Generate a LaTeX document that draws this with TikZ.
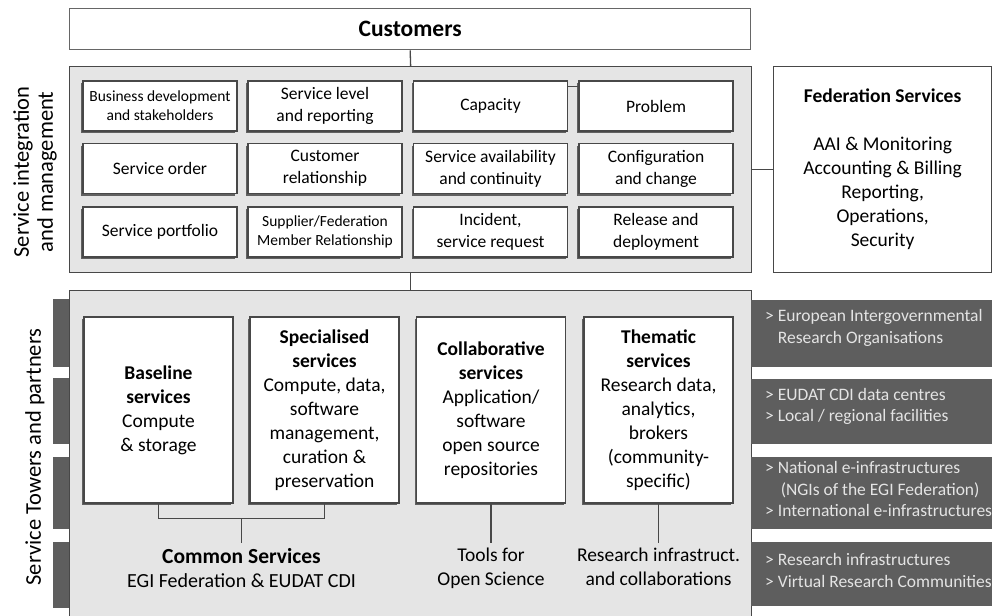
\documentclass[tikz,border=0pt]{standalone}
\usepackage{fontspec}
\setmainfont{Carlito}
\usetikzlibrary{calc,shadows}
\definecolor{panelgray}{RGB}{229,229,229}
\definecolor{bargray}{RGB}{94,94,94}
\definecolor{bartext}{RGB}{228,228,228}
\definecolor{boxline}{RGB}{72,72,72}

\begin{document}
\begin{tikzpicture}[x=1pt,y=-1pt,
    every node/.style={inner sep=0pt},
    frame/.style={draw=boxline, line width=1.3pt},
    link/.style={draw=boxline, line width=1.3pt},
    panel/.style={frame, fill=panelgray, anchor=north west, minimum width=682pt},
    shade/.style={drop shadow={shadow xshift=-2pt, shadow yshift=-2pt, fill=black!62, opacity=1}},
    proc/.style={frame, fill=white, shade, minimum width=154pt, minimum height=50pt, align=center, font=\fontsize{17.5}{22}\selectfont},
    small/.style={font=\fontsize{15.5}{19}\selectfont},
    tower/.style={frame, fill=white, shade, minimum width=149pt, minimum height=186pt, align=center, font=\fontsize{19.5}{24}\selectfont},
    lbl/.style={anchor=north, inner ysep=5pt, align=center, font=\fontsize{19.5}{24}\selectfont},
    bartxt/.style={anchor=west, align=left, text=bartext, font=\fontsize{17.5}{21.5}\selectfont},
    sidelbl/.style={rotate=90, align=center, font=\fontsize{22.5}{24}\selectfont}]
\clip (0,0) rectangle (992,615);

\node[frame, draw=black!60, fill=white, anchor=north west, minimum width=681pt, minimum height=41pt,
      font=\fontsize{23.5}{26}\selectfont\bfseries] (cust) at (69,8) {Customers};
\node[panel, minimum height=206pt] (sim) at (69,66) {};
\node[frame, fill=white, anchor=north west, minimum width=218pt, minimum height=206pt, align=center,
      font=\fontsize{19.5}{24}\selectfont] (fed) at (773,66)
      {\textbf{Federation Services}\\[24pt]AAI \& Monitoring\\Accounting \& Billing\\Reporting,\\Operations,\\Security};
\node[panel, minimum height=335pt] (towers) at (69,290) {};

\node[sidelbl] (simlabel) at (35,172) {Service integration\\and management};
\node[sidelbl] (towerlabel) at (35,457) {Service Towers and partners};

\node[proc, small] (bizdev) at (160,106) {Business development\\and stakeholders};
\node[proc] (slm) at (325,106) {Service level\\and reporting};
\node[proc] (cap) at (490.5,106) {Capacity};
\node[proc] (prob) at (656,106) {Problem};
\node[proc] (sorder) at (160,168.5) {Service order};
\node[proc] (crm) at (325,168.5) {Customer\\relationship};
\node[proc] (savail) at (490.5,168.5) {Service availability\\and continuity};
\node[proc] (config) at (656,168.5) {Configuration\\and change};
\node[proc] (sportfolio) at (160,232) {Service portfolio};
\node[proc, small] (supplier) at (325,232) {Supplier/Federation\\Member Relationship};
\node[proc] (incident) at (490.5,232) {Incident,\\service request};
\node[proc] (release) at (656,232) {Release and\\deployment};

\draw[link] (cust.south) -- (sim.north);
\draw[link] (sim.south) -- (towers.north);
\draw[link] (sim.east) -- (fed.west);
\draw[link] ($(cap.north east)+(0,6)$) -- ($(prob.north west)+(0,6)$);

\node[tower] (base) at (158.5,410) {\textbf{Baseline}\\\textbf{services}\\Compute\\\& storage};
\node[tower] (spec) at (324.5,410) {\textbf{Specialised}\\\textbf{services}\\Compute, data,\\software\\management,\\curation \&\\preservation};
\node[tower] (collab) at (491,410) {\textbf{Collaborative}\\\textbf{services}\\Application/\\software\\open source\\repositories};
\node[tower] (thematic) at (658.5,410) {\textbf{Thematic}\\\textbf{services}\\Research data,\\analytics,\\brokers\\(community-\\specific)};

\node[lbl] (common) at (241.5,543) {{\fontsize{21.5}{24}\selectfont\textbf{Common Services}}\\{\fontsize{20}{25}\selectfont EGI Federation \& EUDAT CDI}};
\node[lbl] (tools) at (491,543) {Tools for\\Open Science};
\node[lbl] (rinfra) at (658.5,543) {Research infrastruct.\\and collaborations};

\draw[link] (base.south) -- ++(0,15) coordinate (bl) -| (spec.south);
\draw[link] ($(bl)!.5!(bl -| spec.south)$) -- (common.north);
\draw[link] (collab.south) -- (tools.north);
\draw[link] (thematic.south) -- (rinfra.north);

\fill[bargray] (53,299) rectangle (69,367);
\fill[bargray] (53,378) rectangle (69,444);
\fill[bargray] (53,457) rectangle (69,529);
\fill[bargray] (53,542) rectangle (69,608);
\fill[bargray] (751,300) rectangle (992,367);
\fill[bargray] (751,379) rectangle (992,444);
\fill[bargray] (751,457) rectangle (992,529);
\fill[bargray] (751,542) rectangle (992,606);

\node[bartxt] (eiro) at (765,328) {> European Intergovernmental\\\phantom{> }Research Organisations};
\node[bartxt] (eudat) at (765,406.5) {> EUDAT CDI data centres\\> Local / regional facilities};
\node[bartxt] (ngi) at (765,489) {> National e-infrastructures\\\phantom{> }\,(NGIs of the EGI Federation)\\> International e-infrastructures};
\node[bartxt] (ri) at (765,570.5) {> Research infrastructures\\> Virtual Research Communities};
\end{tikzpicture}
\end{document}
